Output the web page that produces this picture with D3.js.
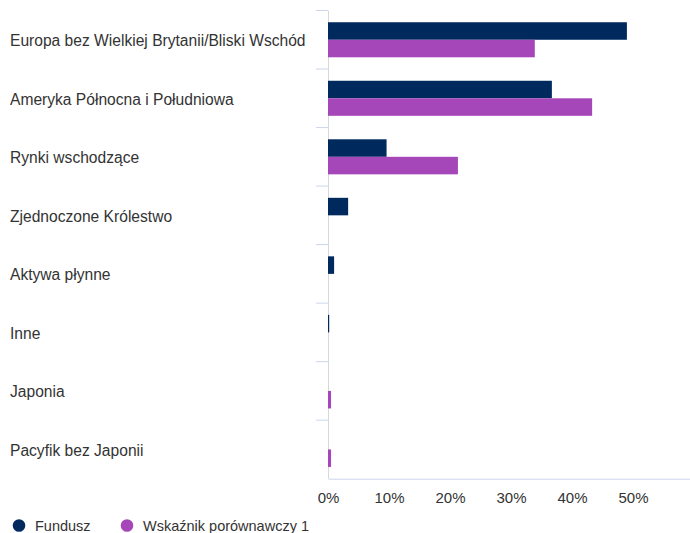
<!DOCTYPE html>
<html>
<head>
<meta charset="utf-8">
<script src="https://cdn.jsdelivr.net/npm/d3@7"></script>
<style>
  body { margin: 0; background: #fff; }
  svg { display: block; font-family: "Liberation Sans", Arial, sans-serif; }
</style>
</head>
<body>
<div id="chart"></div>
<script>
const categories = [
  "Europa bez Wielkiej Brytanii/Bliski Wschód",
  "Ameryka Północna i Południowa",
  "Rynki wschodzące",
  "Zjednoczone Królestwo",
  "Aktywa płynne",
  "Inne",
  "Japonia",
  "Pacyfik bez Japonii"
];
const seriesNames = ["Fundusz", "Wskaźnik porównawczy 1"];
const fundValues = [49.0, 36.7, 9.6, 3.3, 1.0, 0.2, 0, 0];
const benchValues = [33.9, 43.3, 21.3, 0, 0, 0, 0.5, 0.5];
const xTicks = [0, 10, 20, 30, 40, 50];
const colors = ["#002a5e", "#a547b8"];

const WIDTH = 690, HEIGHT = 533;
const svg = d3.select("#chart").append("svg")
  .attr("width", WIDTH)
  .attr("height", HEIGHT);

let x = d3.scaleLinear().domain([0, 60]).range([328, 694]);
let y0 = d3.scaleBand().domain(categories).range([10.5, 478.7]).padding(0);
let y1 = d3.scaleBand().domain(seriesNames).range([0, y0.bandwidth()]).paddingOuter(0.67);

// category ticks on the left of the axis
svg.append("g")
  .selectAll("line")
  .data(categories)
  .join("line")
  .attr("x1", 316).attr("x2", 328)
  .attr("y1", d => y0(d)).attr("y2", d => y0(d))
  .attr("stroke", "#ccd6eb");

// vertical axis line (behind the bars)
svg.append("line")
  .attr("x1", 328.5).attr("x2", 328.5)
  .attr("y1", 10.5).attr("y2", 478.7)
  .attr("stroke", "#d8d8d8");

// bars
let rows = categories.map((c, i) => ({ cat: c, vals: [fundValues[i], benchValues[i]] }));
let groups = svg.append("g").selectAll("g")
  .data(rows)
  .join("g")
  .attr("transform", d => `translate(0,${y0(d.cat)})`);
groups.selectAll("rect")
  .data(d => d.vals.map((v, k) => ({ name: seriesNames[k], v: v, k: k })).filter(e => e.v > 0))
  .join("rect")
  .attr("x", x(0))
  .attr("y", d => y1(d.name))
  .attr("width", d => x(d.v) - x(0))
  .attr("height", y1.bandwidth())
  .attr("fill", d => colors[d.k]);

// bottom axis
let xAxis = svg.append("g")
  .attr("transform", `translate(0,478.7)`)
  .call(d3.axisBottom(x).tickValues(xTicks).tickFormat(d => d + "%").tickSize(0).tickPadding(14));
xAxis.select(".domain").attr("stroke", "#ccd6eb");
xAxis.selectAll("text")
  .attr("fill", "#333")
  .style("font-size", "15px")
  .style("font-family", "Liberation Sans, Arial, sans-serif");

// category labels
svg.append("g").selectAll("text")
  .data(categories)
  .join("text")
  .attr("x", 10)
  .attr("y", d => y0(d) + y0.bandwidth() / 2)
  .attr("dy", "0.42em")
  .attr("fill", "#333")
  .style("font-size", "15.6px")
  .text(d => d);

// legend
let legendX = [19, 127];
let legend = svg.append("g").selectAll("g")
  .data(seriesNames)
  .join("g")
  .attr("transform", (d, i) => `translate(${legendX[i]},525.5)`);
legend.append("circle")
  .attr("r", 6.3)
  .attr("fill", (d, i) => colors[i]);
legend.append("text")
  .attr("x", 16)
  .attr("dy", "0.36em")
  .attr("fill", "#333")
  .style("font-size", "14.5px")
  .text(d => d);
</script>
</body>
</html>
